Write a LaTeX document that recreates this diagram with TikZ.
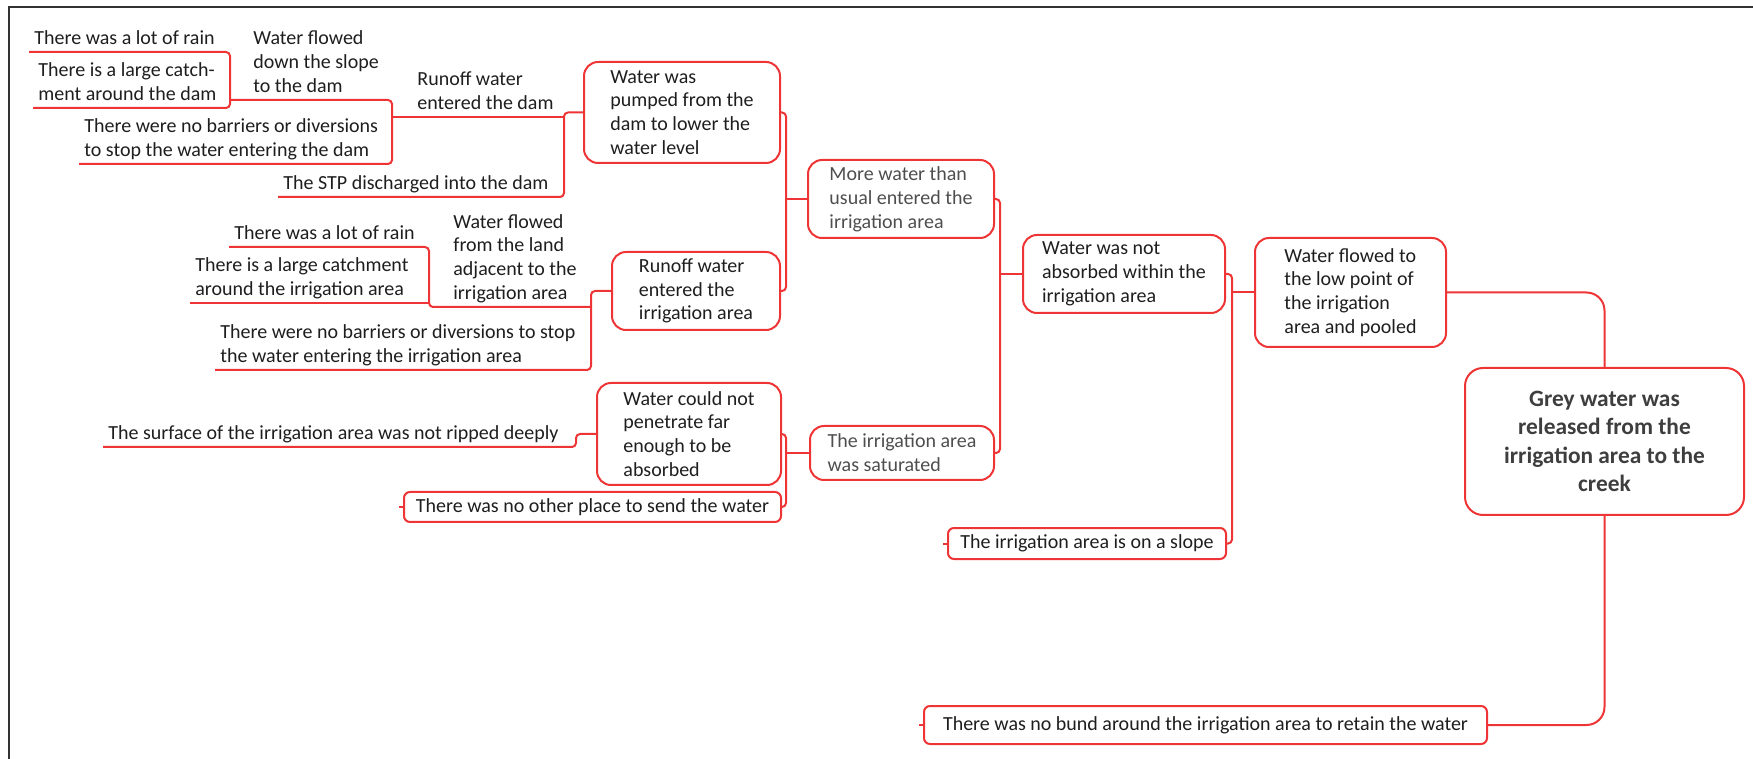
\documentclass[tikz,border=0pt]{standalone}
\usepackage{fontspec}
\setmainfont{Carlito}
\usepackage{xcolor}
\usepackage{tikz}

\definecolor{mapred}{RGB}{238,52,52}
\definecolor{inkdark}{RGB}{30,30,30}
\definecolor{inkgray}{RGB}{78,78,78}
\definecolor{rootink}{RGB}{62,62,62}
\definecolor{framegray}{RGB}{50,50,50}

\begin{document}
\begin{tikzpicture}[x=0.5pt, y=-0.5pt,
        every node/.style={font=\fontsize{10}{11.9}\selectfont, text=inkdark},
        link/.style={draw=mapred, line width=1pt, rounded corners=2pt},
        topic/.style={draw=mapred, line width=1pt, rounded corners=7pt, align=left, inner xsep=4pt, inner ysep=0pt},
        smallbox/.style={draw=mapred, line width=1pt, rounded corners=3pt, inner xsep=4pt, inner ysep=0pt},
        cause/.style={anchor=south west, align=left, inner xsep=0pt, inner ysep=0pt, execute at end node=\strut},
        frame/.style={draw=framegray, line width=1.1pt}]
        \useasboundingbox (0,0) rectangle (1753,759);
        \draw[frame] (9,759) -- (9,7) -- (1753,7);

        % Bracket positions
        \coordinate (dA) at (230,0);
        \coordinate (dB) at (392,0);
        \coordinate (dC) at (564,0);
        \coordinate (iA) at (429,0);
        \coordinate (iB) at (591,0);
        \coordinate (sA) at (576,0);
        \coordinate (mA) at (786,0);
        \coordinate (cA) at (786,0);
        \coordinate (nA) at (1000,0);
        \coordinate (fA) at (1232,0);

        % Causes around the dam
        \node[cause] (rain1) at (34,52) {There was a lot of rain};
        \node[cause] (catch1) at (38,108) {There is a large catch-\\ment around the dam};
        \node[cause] (slope1) at (253,100) {Water flowed\\down the slope\\to the dam};
        \node[cause] (barr1) at (84,164) {There were no barriers or diversions\\to stop the water entering the dam};
        \node[cause] (rundam) at (417,117) {Runoff water\\entered the dam};
        \node[cause] (stp) at (283,197) {The STP discharged into the dam};

        % Causes around the irrigation area
        \node[cause] (rain2) at (234,247) {There was a lot of rain};
        \node[cause] (catch2) at (195,303) {There is a large catchment\\around the irrigation area};
        \node[cause] (land) at (453,307) {Water flowed\\from the land\\adjacent to the\\irrigation area};
        \node[cause] (barr2) at (220,370) {There were no barriers or diversions to stop\\the water entering the irrigation area};
        \node[cause] (ripped) at (108,447) {The surface of the irrigation area was not ripped deeply};

        % Boxes
        \node[topic, minimum width=98pt, minimum height=50.5pt] (pumped) at (682,112.5) {Water was\\pumped from the\\dam to lower the\\water level};
        \node[topic, minimum width=84pt, minimum height=39pt] (runirr) at (696,291) {Runoff water\\entered the\\irrigation area};
        \node[topic, minimum width=92pt, minimum height=51pt] (couldnot) at (689,434) {Water could not\\penetrate far\\enough to be\\absorbed};
        \node[smallbox, minimum width=188.5pt, minimum height=15pt] (noother) at (592.5,507) {There was no other place to send the water};
        \node[topic, minimum width=93pt, minimum height=39pt, text=inkgray] (morewater) at (901,199) {More water than\\usual entered the\\irrigation area};
        \node[topic, minimum width=92pt, minimum height=27pt, text=inkgray] (saturated) at (902,453) {The irrigation area\\was saturated};
        \node[topic, minimum width=101pt, minimum height=39pt] (notabs) at (1124,274) {Water was not\\absorbed within the\\irrigation area};
        \node[smallbox, minimum width=139pt, minimum height=15.5pt] (slope) at (1087,543.5) {The irrigation area is on a slope};
        \node[topic, minimum width=95.5pt, minimum height=54.5pt] (flowto) at (1350.5,292.5) {Water flowed to\\the low point of\\the irrigation\\area and pooled};
        \node[smallbox, minimum width=281.5pt, minimum height=19pt] (bund) at (1205.5,725) {There was no bund around the irrigation area to retain the water};
        \node[topic, align=center, minimum width=139.5pt, minimum height=73.5pt, rounded corners=9pt,
              font=\bfseries\fontsize{11.7}{14.2}\selectfont, text=rootink] (root) at (1604.5,441.5)
              {Grey water was\\released from the\\irrigation area to the\\creek};

        % Dam branch
        \draw[link] ([xshift=-2.5pt]rain1.south west) -- (rain1.south west -| dA) -- (catch1.south west -| dA) -- ([xshift=-2.5pt]catch1.south west);
        \draw[link] (slope1.south west -| dA) -- (slope1.south west -| dB) -- (barr1.south west -| dB) -- ([xshift=-2.5pt]barr1.south west);
        \draw[link] (rundam.south west -| dB) -- (rundam.south west -| dC);
        \draw[link] (pumped.west) -- (pumped.west -| dC) -- (stp.south west -| dC) -- ([xshift=-2.5pt]stp.south west);

        % Irrigation branch
        \draw[link] ([xshift=-2.5pt]rain2.south west) -- (rain2.south west -| iA) -- (land.south west -| iA) -- (land.south west -| iB);
        \draw[link] ([xshift=-2.5pt]catch2.south west) -- (catch2.south west -| iA);
        \draw[link] (runirr.west) -- (runirr.west -| iB) -- (barr2.south west -| iB) -- ([xshift=-2.5pt]barr2.south west);
        \draw[link] ([xshift=-2.5pt]ripped.south west) -- (ripped.south west -| sA) -- (couldnot.west -| sA) -- (couldnot.west);
        \draw[link] (couldnot.east) -- (couldnot.east -| cA) -- (noother.east -| cA) -- (noother.east);
        \draw[link] (saturated.west) -- (saturated.west -| cA);

        % Middle of the map
        \draw[link] (pumped.east) -- (pumped.east -| mA) -- (runirr.east -| mA) -- (runirr.east);
        \draw[link] (morewater.west) -- (morewater.west -| mA);
        \draw[link] (morewater.east) -- (morewater.east -| nA) -- (saturated.east -| nA) -- (saturated.east);
        \draw[link] (notabs.west) -- (notabs.west -| nA);
        \draw[link] (notabs.east) -- (notabs.east -| fA) -- (slope.east -| fA) -- (slope.east);
        \draw[link] (flowto.west) -- (flowto.west -| fA);

        % Root
        \draw[link, rounded corners=9pt] (root.north) |- (flowto.east);
        \draw[link, rounded corners=9pt] (root.south) |- (bund.east);

        % Collapse stubs
        \draw[link] (noother.west) -- ++(-4,0);
        \draw[link] (slope.west) -- ++(-4,0);
        \draw[link] (bund.west) -- ++(-4,0);
    \end{tikzpicture}
\end{document}
